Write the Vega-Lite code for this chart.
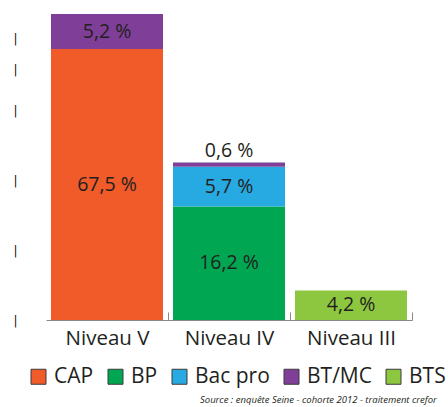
{
  "$schema": "https://vega.github.io/schema/vega-lite/v6.json",
  "width": 366,
  "height": 306,
  "autosize": "none",
  "padding": {"left": 46, "top": 14, "right": 36, "bottom": 87},
  "background": "white",
  "config": {"view": {"stroke": null}},
  "title": {
    "text": "Source : enquête Seine - cohorte 2012 - traitement crefor",
    "orient": "bottom",
    "anchor": "start",
    "frame": "group",
    "dx": 154,
    "offset": 8,
    "fontSize": 9.5,
    "fontStyle": "italic",
    "fontWeight": "normal",
    "font": "Open Sans",
    "color": "#231F20"
  },
  "data": {
    "values": [
      {"niveau": "Niveau V", "cat": "CAP", "pct": 67.5},
      {"niveau": "Niveau V", "cat": "BT/MC", "pct": 5.2},
      {"niveau": "Niveau IV", "cat": "BP", "pct": 16.2},
      {"niveau": "Niveau IV", "cat": "Bac pro", "pct": 5.7},
      {"niveau": "Niveau IV", "cat": "BT/MC", "pct": 0.6},
      {"niveau": "Niveau III", "cat": "BTS", "pct": 4.2}
    ]
  },
  "transform": [
    {"calculate": "indexof(['CAP','BP','Bac pro','BT/MC','BTS'], datum.cat)", "as": "ordre"},
    {"stack": "pct", "groupby": ["niveau"], "sort": [{"field": "ordre", "order": "ascending"}], "as": ["y0", "y1"]},
    {"calculate": "replace(format(datum.pct, '.1f'), '.', ',') + ' %'", "as": "lab"}
  ],
  "encoding": {
    "x": {
      "field": "niveau",
      "type": "nominal",
      "sort": ["Niveau V", "Niveau IV", "Niveau III"],
      "scale": {"paddingInner": 0.082, "paddingOuter": 0.041},
      "axis": {
        "title": null,
        "labelAngle": 0,
        "labelFontSize": 20.5,
        "labelFont": "Open Sans",
        "labelColor": "#231F20",
        "domainColor": "#8a8a8a",
        "tickColor": "#8a8a8a",
        "tickSize": -8,
        "tickOffset": 61,
        "labelOffset": -61,
        "labelPadding": 16
      }
    }
  },
  "layer": [
    {
      "mark": {"type": "bar"},
      "encoding": {
        "y": {
          "field": "y1",
          "type": "quantitative",
          "scale": {"domain": [0, 30, 67.5, 72.7], "range": [306, 96, 35, 0], "nice": false, "zero": false},
          "axis": {
            "title": null,
            "values": [0, 10, 20, 30, 55, 69],
            "labelExpr": "'|'",
            "ticks": false,
            "tickSize": 0,
            "domain": false,
            "grid": false,
            "labelAlign": "center",
            "labelBaseline": "middle",
            "labelPadding": 31,
            "labelFontSize": 12,
            "labelFont": "DejaVu Sans",
            "labelColor": "#111111"
          }
        },
        "y2": {"field": "y0"},
        "color": {
          "field": "cat",
          "type": "nominal",
          "scale": {
            "domain": ["CAP", "BP", "Bac pro", "BT/MC", "BTS"],
            "range": ["#F15A29", "#00A651", "#27AAE1", "#7F3F98", "#8DC63F"]
          },
          "legend": {
            "title": null,
            "orient": "none",
            "direction": "horizontal",
            "legendX": -18,
            "legendY": 352,
            "symbolType": "square",
            "symbolSize": 225,
            "symbolStrokeColor": "#3a3a3a",
            "symbolStrokeWidth": 1,
            "symbolOpacity": 1,
            "labelFontSize": 21,
            "labelFont": "Open Sans",
            "labelColor": "#231F20",
            "columnPadding": 11,
            "labelOffset": 5
          }
        }
      }
    },
    {
      "transform": [{"filter": "datum.pct >= 1"}],
      "mark": {"type": "text", "fontSize": 19.5, "font": "Open Sans", "color": "#231F20", "baseline": "middle"},
      "encoding": {
        "y": {"value": {"expr": "(scale('y', datum.y0) + scale('y', datum.y1)) / 2"}},
        "text": {"field": "lab"}
      }
    },
    {
      "transform": [{"filter": "datum.pct < 1"}],
      "mark": {"type": "text", "fontSize": 19.5, "font": "Open Sans", "color": "#231F20", "baseline": "bottom", "dy": -2},
      "encoding": {
        "y": {"field": "y1", "type": "quantitative"},
        "text": {"field": "lab"}
      }
    }
  ]
}
